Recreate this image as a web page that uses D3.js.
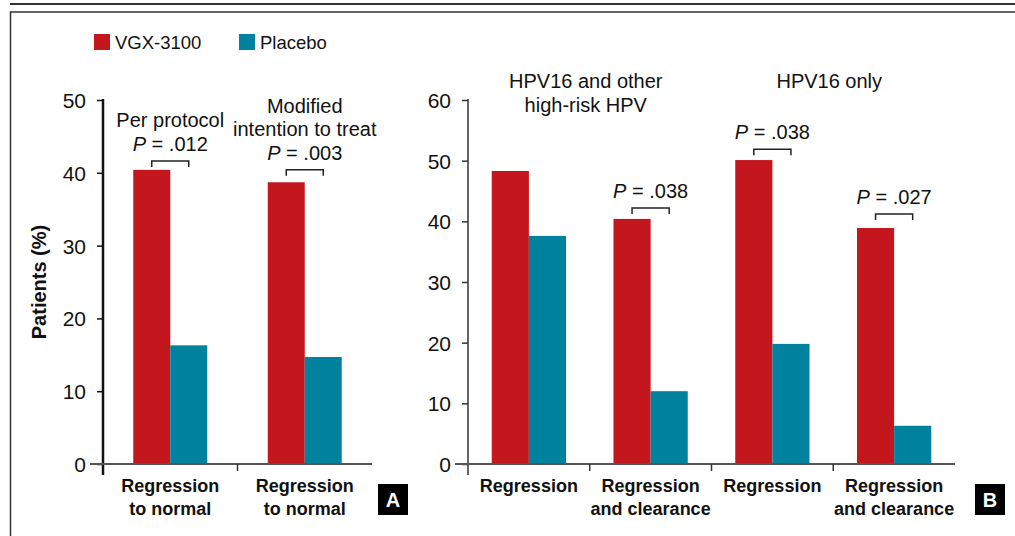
<!DOCTYPE html>
<html>
<head>
<meta charset="utf-8">
<script src="https://cdn.jsdelivr.net/npm/d3@7"></script>
<style>
  body { margin: 0; background: #fff; }
  text { font-family: "Liberation Sans", Arial, Helvetica, sans-serif; fill: #111; }
</style>
</head>
<body>
<div id="chart"></div>
<script>
// Series
var series = ["VGX-3100", "Placebo"];
var colors = ["#c4161d", "#00829e"];

// Panel A
var catsA = [["Regression", "to normal"], ["Regression", "to normal"]];
var vgxA = [40.4, 38.7];
var placeboA = [16.3, 14.7];
var titlesA = [["Per protocol"], ["Modified", "intention to treat"]];
var pvalA = [".012", ".003"];
var bracketA = [40.8, 39.6];
var ticksA = [0, 10, 20, 30, 40, 50];

// Panel B
var catsB = [["Regression"], ["Regression", "and clearance"], ["Regression"], ["Regression", "and clearance"]];
var vgxB = [48.3, 40.4, 50.1, 38.9];
var placeboB = [37.6, 12.0, 19.8, 6.3];
var pvalB = [null, ".038", ".038", ".027"];
var bracketB = [null, 41.2, 50.9, 40.2];
var titlesB = [["HPV16 and other", "high-risk HPV"], ["HPV16 only"]];
var ticksB = [0, 10, 20, 30, 40, 50, 60];

var width = 1015, height = 536;

var svg = d3.select("#chart").append("svg")
  .attr("width", width)
  .attr("height", height);

// frame lines
svg.append("line").attr("x1", 10).attr("x2", width).attr("y1", 4).attr("y2", 4)
  .attr("stroke", "#333").attr("stroke-width", 2);
svg.append("line").attr("x1", 10).attr("x2", width).attr("y1", 12).attr("y2", 12)
  .attr("stroke", "#333").attr("stroke-width", 1.5);
svg.append("line").attr("x1", 10.5).attr("x2", 10.5).attr("y1", 11.5).attr("y2", height)
  .attr("stroke", "#333").attr("stroke-width", 1.5);

// legend
var legend = svg.append("g").selectAll("g").data(series).enter().append("g")
  .attr("transform", function(d, i) { return "translate(" + (94 + i * 145) + ",34)"; });
legend.append("rect").attr("width", 16).attr("height", 16)
  .attr("fill", function(d, i) { return colors[i]; });
legend.append("text").attr("x", 21).attr("y", 14.5)
  .style("font-size", "18.5px").text(function(d) { return d; });

// y axis title
svg.append("text")
  .attr("transform", "translate(46,282) rotate(-90)")
  .attr("text-anchor", "middle")
  .style("font-size", "20px").style("font-weight", "bold")
  .text("Patients (%)");

function pText(sel, p) {
  sel.append("tspan").style("font-style", "italic").text("P");
  sel.append("tspan").text(" = " + p);
}

var panel = function(opt) {
  var g = svg.append("g");
  var y = d3.scaleLinear().domain([0, opt.max]).range([464, 100]);
  var x0 = d3.scaleBand().domain(d3.range(opt.cats.length))
    .range([opt.axisX, opt.endX]).paddingInner(opt.pad).paddingOuter(opt.pad / 2);
  var x1 = d3.scaleBand().domain([0, 1]).range([0, x0.bandwidth()]);

  var rows = opt.cats.map(function(c, i) { return [opt.vgx[i], opt.placebo[i]]; });

  // bars
  var grp = g.selectAll(".grp").data(rows).enter().append("g")
    .attr("transform", function(d, i) { return "translate(" + x0(i) + ",0)"; });
  grp.selectAll("rect").data(function(d) { return d; }).enter().append("rect")
    .attr("x", function(d, j) { return x1(j); })
    .attr("width", x1.bandwidth())
    .attr("y", function(d) { return y(d); })
    .attr("height", function(d) { return y(0) - y(d); })
    .attr("fill", function(d, j) { return colors[j]; });

  // y axis
  var ax = g.append("g").attr("transform", "translate(" + opt.axisX + ",0)")
    .call(d3.axisLeft(y).tickValues(opt.ticks).tickSize(6).tickPadding(11).tickFormat(d3.format("d")));
  ax.select(".domain").remove();
  ax.selectAll(".tick line").attr("stroke", opt.axisColor).attr("stroke-width", 1.5);
  ax.selectAll(".tick text").style("font-size", "21px").style("font-family", "Liberation Sans, Arial, sans-serif")
    .attr("fill", "#111").attr("dy", "0.36em");
  g.append("line").attr("x1", opt.axisX).attr("x2", opt.axisX)
    .attr("y1", y(opt.max) - 1).attr("y2", 475)
    .attr("stroke", opt.axisColor).attr("stroke-width", opt.axisWidth);

  // baseline
  g.append("line").attr("x1", opt.axisX - 13).attr("x2", opt.endX)
    .attr("y1", y(0)).attr("y2", y(0)).attr("stroke", "#555").attr("stroke-width", 2);

  // category separators
  d3.range(1, opt.cats.length).forEach(function(i) {
    var xx = opt.axisX + i * x0.step();
    g.append("line").attr("x1", xx).attr("x2", xx).attr("y1", y(0)).attr("y2", y(0) + 7)
      .attr("stroke", "#333").attr("stroke-width", 1.5);
  });

  // category labels
  var cl = g.selectAll(".cat").data(opt.cats).enter().append("text")
    .attr("text-anchor", "middle").style("font-size", "18px").style("font-weight", "bold");
  cl.each(function(lines, i) {
    var t = d3.select(this);
    lines.forEach(function(l, k) {
      t.append("tspan").attr("x", x0(i) + x0.bandwidth() / 2).attr("y", 492 + k * 23).text(l);
    });
  });

  // brackets and p values
  opt.pvals.forEach(function(p, i) {
    if (p == null) return;
    var xa = x0(i) + x1(0) + x1.bandwidth() / 2,
        xb = x0(i) + x1(1) + x1.bandwidth() / 2,
        yb = y(opt.brackets[i]), yt = yb - 6;
    g.append("path")
      .attr("d", "M" + xa + "," + yb + "V" + yt + "H" + xb + "V" + yb)
      .attr("fill", "none").attr("stroke", "#222").attr("stroke-width", 1.5);
    var cx = (xa + xb) / 2;
    var base = yt - 10;
    pText(g.append("text").attr("x", cx).attr("y", base).attr("text-anchor", "middle")
      .style("font-size", "20px"), p);
    if (opt.stackTitles) {
      var lines = opt.titles[i];
      lines.forEach(function(l, k) {
        g.append("text").attr("x", cx).attr("y", base - 24 - (lines.length - 1 - k) * 23)
          .attr("text-anchor", "middle").style("font-size", "20px").text(l);
      });
    }
  });

  // titles across pairs of categories
  if (!opt.stackTitles) {
    opt.titles.forEach(function(lines, k) {
      var cx = opt.axisX + (2 * k + 1) * x0.step();
      lines.forEach(function(l, j) {
        g.append("text").attr("x", cx - 4).attr("y", 88 + j * 24)
          .attr("text-anchor", "middle").style("font-size", "20px").text(l);
      });
    });
  }

  // panel letter
  g.append("rect").attr("x", opt.boxX).attr("y", 484).attr("width", 30).attr("height", 31).attr("fill", "#000");
  g.append("text").attr("x", opt.boxX + 15).attr("y", 507).attr("text-anchor", "middle")
    .style("font-size", "20px").style("font-weight", "bold").style("fill", "#fff").text(opt.letter);
};

panel({ cats: catsA, vgx: vgxA, placebo: placeboA, pvals: pvalA, brackets: bracketA,
  titles: titlesA, stackTitles: true, ticks: ticksA, max: 50,
  axisX: 103, endX: 372, pad: 0.45, axisColor: "#111", axisWidth: 2.5, boxX: 378, letter: "A" });

panel({ cats: catsB, vgx: vgxB, placebo: placeboB, pvals: pvalB, brackets: bracketB,
  titles: titlesB, stackTitles: false, ticks: ticksB, max: 60,
  axisX: 468, endX: 955, pad: 0.39, axisColor: "#333", axisWidth: 1.5, boxX: 975, letter: "B" });
</script>
</body>
</html>
